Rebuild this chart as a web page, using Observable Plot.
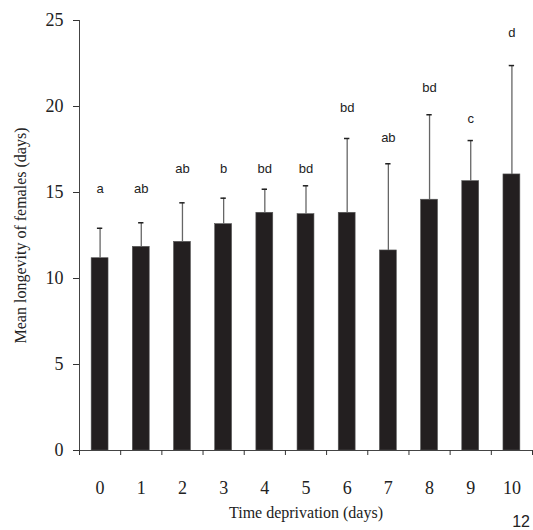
<!DOCTYPE html>
<html><head><meta charset="utf-8">
<script src="https://cdn.jsdelivr.net/npm/d3@7"></script>
<script src="https://cdn.jsdelivr.net/npm/@observablehq/plot@0.6"></script>
<style>
body{margin:0;background:#fff;}
#wrap{position:relative;width:533px;height:530px;}
#page{position:absolute;right:3px;top:514px;font-family:"Liberation Sans";font-size:16px;line-height:1;color:#222;}
</style>
</head><body>
<div id="wrap"><div id="chart"></div><div id="page">12</div></div>
<script>
const days = [0, 1, 2, 3, 4, 5, 6, 7, 8, 9, 10];
const means = [11.18, 11.84, 12.13, 13.16, 13.82, 13.74, 13.82, 11.63, 14.58, 15.66, 16.05];
const sd = [1.74, 1.40, 2.27, 1.51, 1.37, 1.65, 4.32, 5.04, 4.94, 2.36, 6.33];
const letters = ["a", "ab", "ab", "b", "bd", "bd", "bd", "ab", "bd", "c", "d"];
const letterY = [15.2, 15.2, 16.4, 16.4, 16.4, 16.4, 19.9, 18.2, 21.1, 19.3, 24.3];
const yTicks = [0, 5, 10, 15, 20, 25];
const xTitle = "Time deprivation (days)";
const yTitle = "Mean longevity of females (days)";

const data = days.map((d, i) => ({day: d, mean: means[i], upper: means[i] + sd[i], letter: letters[i], ly: letterY[i]}));
const edges = days.map(d => d - 0.5).concat([days[days.length - 1] + 0.5]);
const hw = 0.205, cw = 0.065;

const chart = Plot.plot({
  width: 533, height: 530,
  marginLeft: 79, marginRight: 1, marginTop: 20, marginBottom: 80,
  style: {fontFamily: "Liberation Serif", fontSize: "18px", color: "#333", background: "#fff"},
  x: {domain: [-0.5, 10.5]},
  y: {domain: [0, 25]},
  marks: [
    Plot.rectY(data, {x1: d => d.day - hw, x2: d => d.day + hw, y: "mean", fill: "#231f20", stroke: "#555", strokeWidth: 0.6}),
    Plot.ruleX(data, {x: "day", y1: "mean", y2: "upper", stroke: "#666", strokeWidth: 1.3}),
    Plot.ruleY(data, {x1: d => d.day - cw, x2: d => d.day + cw, y: "upper", stroke: "#222", strokeWidth: 1.5}),
    Plot.text(data, {x: "day", y: "ly", text: "letter", fontFamily: "Liberation Sans", fontSize: 13, fill: "#222"}),
    Plot.ruleX([-0.5], {stroke: "#444"}),
    Plot.ruleY([0], {stroke: "#444"}),
    Plot.axisY(yTicks, {tickSize: 6, tickPadding: 10, label: null, fontSize: 18, fill: "#222"}),
    Plot.axisX(days, {tickSize: 0, tickPadding: 31, label: null, fontSize: 18, fill: "#222"}),
    Plot.axisX(edges, {tickSize: 5, tickFormat: () => "", label: null}),
    Plot.text([yTitle], {frameAnchor: "left", textAnchor: "middle", lineAnchor: "middle", rotate: -90, dx: -59, fontSize: 16, fill: "#222"}),
    Plot.text([xTitle], {frameAnchor: "bottom", textAnchor: "middle", lineAnchor: "middle", dy: 62, fontSize: 16, fill: "#222"})
  ]
});
document.getElementById("chart").appendChild(chart);
</script>
</body></html>
